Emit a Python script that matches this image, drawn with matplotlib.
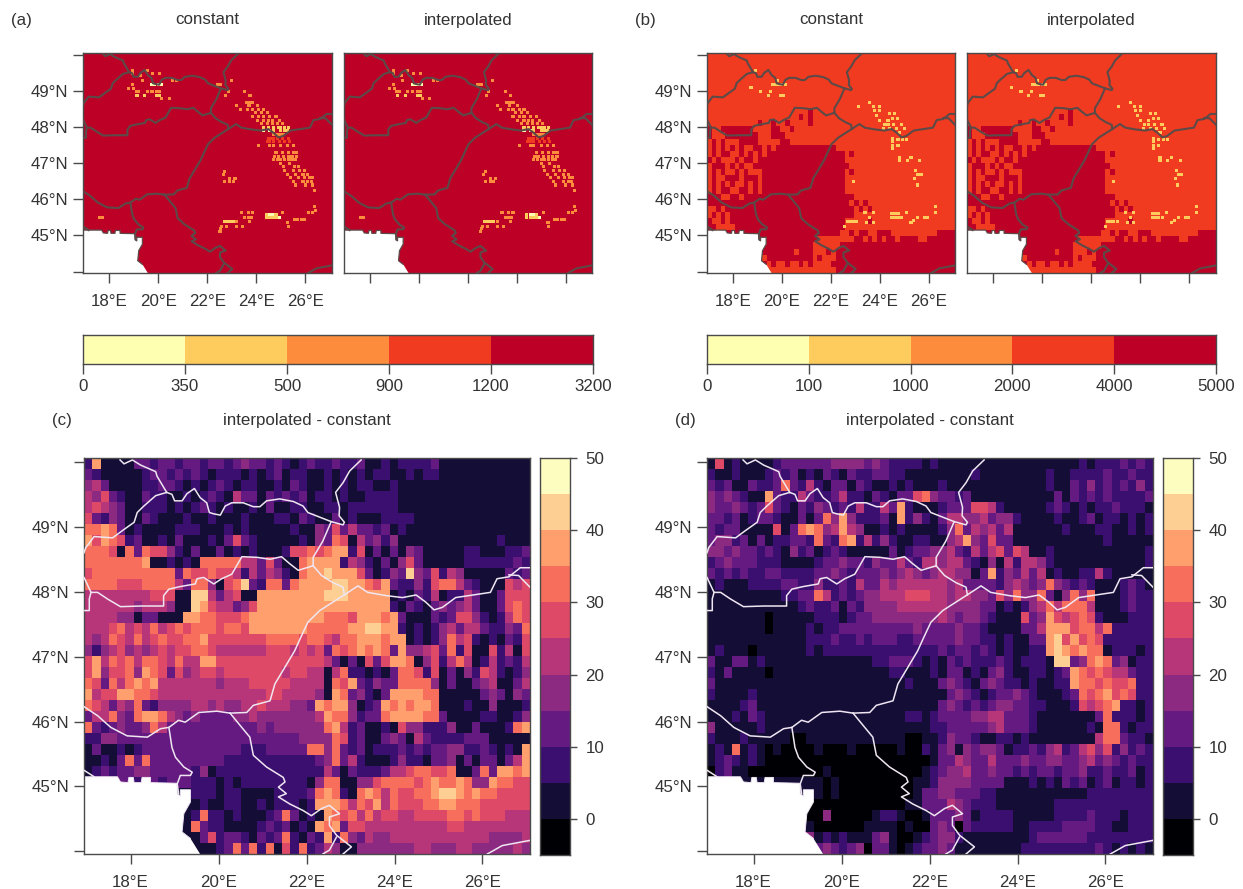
import numpy as np
import matplotlib
matplotlib.use('Agg')
import matplotlib.pyplot as plt
from matplotlib.colors import ListedColormap, BoundaryNorm

plt.rcParams['font.family'] = ['Liberation Sans', 'DejaVu Sans']

W, H = 1243, 889

heat_colors = ['#FFFFB2', '#FECC5C', '#FD8D3C', '#F03B20', '#BD0026']
magma_colors = ['#000004', '#140E36', '#3B0F70', '#641A80', '#8C2981', '#B63679',
                '#DE4968', '#F76F5C', '#FE9F6D', '#FECF92', '#FCFDBF']

a_breaks = ['0', '350', '500', '900', '1200', '3200']
b_breaks = ['0', '100', '1000', '2000', '4000', '5000']
diff_breaks = [-5, 0, 5, 10, 15, 20, 25, 30, 35, 40, 45, 50]
diff_labels = [0, 10, 20, 30, 40, 50]
lon_ticks = [18, 20, 22, 24, 26]
lat_ticks = [44, 45, 46, 47, 48, 49, 50]

# country borders, lon/lat
cz_pl = [(17.76, 50.03), (17.85, 49.97), (18.04, 50.03), (18.23, 49.95), (18.57, 49.85), (18.60, 49.78), (18.82, 49.53)]
sk_pl = [(18.82, 49.53), (18.94, 49.50), (19.0, 49.40), (19.17, 49.40), (19.28, 49.51), (19.45, 49.59), (19.58, 49.45),
         (19.73, 49.37), (19.79, 49.22), (19.89, 49.20), (20.04, 49.18), (20.15, 49.32), (20.30, 49.37), (20.56, 49.37),
         (20.79, 49.31), (20.94, 49.31), (21.09, 49.40), (21.39, 49.43), (21.70, 49.39), (21.92, 49.32), (22.03, 49.22),
         (22.56, 49.08), (22.83, 49.03), (22.86, 49.07), (22.74, 49.17), (22.75, 49.30), (22.66, 49.53), (22.83, 49.68),
         (22.98, 49.86), (23.24, 50.03)]
cz_sk = [(18.82, 49.53), (18.57, 49.48), (18.30, 49.32), (18.15, 49.22), (18.08, 49.07), (17.81, 48.94), (17.59, 48.83),
         (17.17, 48.85), (16.98, 48.68), (16.94, 48.60)]
sk_ua = [(22.56, 49.08), (22.37, 48.78), (22.15, 48.53), (22.15, 48.40)]
sk_hu = [(22.15, 48.40), (21.81, 48.33), (21.62, 48.43), (21.43, 48.54), (21.17, 48.50), (20.87, 48.53), (20.53, 48.54),
         (20.41, 48.40), (20.30, 48.27), (20.07, 48.20), (19.89, 48.12), (19.66, 48.22), (19.51, 48.20), (19.47, 48.12),
         (19.13, 48.08), (18.87, 48.04), (18.75, 47.94), (18.75, 47.78), (18.23, 47.78), (17.77, 47.77), (17.47, 47.89),
         (17.25, 47.99), (17.10, 47.99), (16.94, 48.22)]
at_hu = [(17.10, 47.99), (17.06, 47.89), (17.06, 47.71), (16.94, 47.71)]
hu_ua = [(22.15, 48.40), (22.34, 48.25), (22.60, 48.14), (22.83, 48.07), (22.86, 47.95)]
ro_north = [(27.08, 48.37), (26.86, 48.37), (26.60, 48.23), (26.33, 48.20), (26.18, 47.99), (25.39, 47.91), (25.09, 47.76),
            (24.90, 47.72), (24.71, 47.84), (24.49, 47.95), (24.18, 47.91), (23.81, 47.94), (23.39, 47.99), (23.17, 48.09),
            (22.83, 47.94), (22.30, 47.71), (22.03, 47.53), (21.85, 47.27), (21.73, 47.09), (21.51, 46.84), (21.28, 46.58),
            (21.17, 46.32), (20.79, 46.25), (20.64, 46.14), (20.26, 46.13)]
ro_md = [(26.60, 48.26), (26.82, 48.25), (27.08, 48.07)]
hu_south = [(16.94, 46.23), (17.25, 46.09), (17.55, 45.91), (17.92, 45.78), (18.38, 45.76), (18.68, 45.89), (18.87, 45.91),
            (19.09, 46.02), (19.24, 45.99), (19.55, 46.14), (19.96, 46.16), (20.26, 46.13)]
hr_rs = [(18.87, 45.91), (18.94, 45.60), (19.02, 45.45), (19.21, 45.30), (19.40, 45.22), (19.36, 45.17), (19.13, 45.17),
         (19.06, 45.04), (19.09, 44.89)]
rs_ro = [(20.26, 46.13), (20.49, 45.94), (20.71, 45.76), (20.79, 45.48), (21.09, 45.30), (21.47, 45.14), (21.51, 45.07),
         (21.36, 44.99), (21.54, 44.89), (21.36, 44.84), (21.62, 44.73), (21.92, 44.63), (22.11, 44.55), (22.34, 44.66),
         (22.52, 44.71), (22.75, 44.58), (22.52, 44.53), (22.52, 44.40), (22.68, 44.25), (23.02, 44.07), (22.83, 43.96)]
rs_bg = [(22.68, 44.22), (22.52, 44.02), (22.37, 43.96)]
ro_bg = [(26.11, 43.96), (26.45, 44.09), (27.08, 44.17)]
coast = [(16.94, 45.25), (17.17, 45.15)]
borders = [cz_pl, sk_pl, cz_sk, sk_ua, sk_hu, at_hu, hu_ua, ro_north, ro_md, hu_south, hr_rs, rs_ro, rs_bg, ro_bg, coast]

# sea / no data area in the south west corner
mask_lon = [16.94, 17.70, 17.77, 17.94, 17.96, 18.06, 18.08, 18.24, 18.26, 18.45, 18.45, 19.06, 19.06, 19.13, 19.13, 19.36,
            19.36, 19.21, 19.17, 19.36, 19.58, 16.94]
mask_lat = [45.15, 45.15, 45.07, 45.06, 45.14, 45.14, 45.06, 45.06, 45.14, 45.14, 45.06, 45.05, 44.89, 44.85, 44.95, 44.95,
            44.76, 44.58, 44.30, 44.20, 43.96, 43.96]

# panel (c), one char per cell = colour class, north to south
c_rows = [
    "2811113323 3233233234 3323212322 3223112122 2231111111 1111",
    "3211111233 2323212221 2123122112 1212122112 1221111111 1111",
    "4531111223 3212123212 2112132112 1212211211 1111111111 1111",
    "5463211322 1121232153 3132323122 1211222211 1111111111 1111",
    "5654311222 1212321211 2131122112 2122222211 1111111111 1111",
    "6324311321 1121121112 1112213211 3121112222 1111111111 1111",
    "7787312111 1222111212 1111121143 6353323121 1111111111 1111",
    "8687623112 1311121363 2111112143 7615342411 1111111111 2111",
    "7776173766 4213113121 2111266767 8826131314 3111112211 1223",
    "7777777811 2121777775 5363117888 8254213146 3111112222 2232",
    "6777777777 7376676652 5354217889 8886312439 4362541111 1323",
    "7777666777 7537741679 3277378888 9988768322 4267753211 1656",
    "5555555566 6119953561 1888888889 9988888121 3251225311 3666",
    "5555554555 4119865534 6888888888 8888888213 2134345311 3676",
    "5555441331 1188776667 8888888887 7768887831 1132366421 2576",
    "5556756575 6767776776 8888888777 7788998821 2124535532 2437",
    "5457657567 6677866666 6677776776 5778887881 2124756212 1326",
    "4245645456 5667765555 5566656563 7678787384 4563726116 2516",
    "6857675776 5755886666 6666666665 3131636887 1462575125 2325",
    "6846674876 3645665666 6666566551 5722121377 6261314265 2124",
    "7637578785 5555554555 6666655551 7683243377 7741311345 1135",
    "8566887765 5555555555 5566555541 8734213888 8771111134 3143",
    "7653547324 4445545445 5655544387 8841238787 8871112114 1112",
    "3557437887 5434333344 5444444458 7742337888 8773111122 1124",
    "7323433475 3333333333 3434444447 8523112164 4222411311 1278",
    "2244333333 3333333333 3333334444 7623113431 5322223331 1111",
    "1311212333 3333333332 2233333774 7323122232 3233442232 1218",
    "1121373733 3333333222 2222222234 7352111242 2133413133 1358",
    "1232334433 3332412222 2222222225 3132223556 7766711373 8878",
    "1122332332 3332221212 2222222147 7114467777 6787787448 7766",
    "1111111111 1112221221 1112222378 7217875766 7789987877 6666",
    "1111111111 1111211221 1212221288 8757685766 6778877766 6666",
    "1111111111 1112722121 1123731218 7675756655 6666776766 6555",
    "1111111111 1117322111 1232312187 8366555555 5555665555 5555",
    "1111111111 1111362332 1323721328 2743544555 5555555554 4445",
    "1111111111 1111112373 7271627235 4114444444 5544455444 4454",
]

# panel (d)
d_rows = [
    "1612111123 3333344443 4322221211 1111111111 1111121222 3232",
    "2112111232 3121321322 3322111111 1121111111 1211222232 2322",
    "3231132237 3252133132 1121211121 1111111111 1211324232 3242",
    "4343211832 2532235221 3213367433 2311111111 1131323232 2223",
    "4334323632 1324323252 2538211123 3366521111 1232121223 2221",
    "3323123321 1313748422 2318242135 5445344211 1121123122 1212",
    "3233111161 3787458541 1212111124 7354535111 1112111221 1212",
    "3442313122 3327327825 2421122114 5843633111 1111111121 1111",
    "4434332321 4231232111 1131233445 3253563651 1211111111 1112",
    "2343332221 1112334332 4335325545 5321415255 4211111111 1112",
    "3232322332 2223343233 3434543455 4413824353 5121122521 1111",
    "1211122223 3224223253 3545555554 5333324543 4743232111 2321",
    "1111111112 2337523234 4555666554 5544364744 7314747111 2322",
    "1111111111 1232231324 4445555554 4443312124 5757775111 2322",
    "1111111011 1112221233 4444444454 3443211163 4865676211 1222",
    "1111111011 1121223333 3333343333 4332111133 5888677572 2222",
    "1111111111 1122232232 3332233333 4332212113 3896867622 2222",
    "1211101111 1121222222 2222222232 3323212112 2898787712 2212",
    "3113312111 1111111111 2233321213 2322232122 2199347873 4122",
    "2131111011 1111111111 1122111213 3121342112 2123876765 5322",
    "3111111111 1111111111 1111211134 3213432212 1122877676 6722",
    "2111121111 1111111111 1111111113 4321233432 1112376786 7622",
    "1111231111 1111111111 1111111134 3232344332 2111265678 2212",
    "1112132111 1111111111 1111221233 3344553332 1111111372 2212",
    "4111112111 1111111111 1111111223 3333453332 1111112177 2122",
    "2111211111 0011111111 1111001124 3321122121 1111111577 3221",
    "1217121010 0001000100 0001002134 1434431223 2452356462 4232",
    "1232121000 0000000000 0000000133 5433533343 3443345343 2322",
    "0231100000 0000100000 0000001234 4533433232 3323342232 2312",
    "1111111111 1111010000 0000011244 4433331112 1213231231 2212",
    "1111111111 1111010000 0000013344 3332211111 1111112222 2222",
    "1111111111 1100000000 0000113335 4322211111 1122222222 2222",
    "1111111111 1100400000 1221001333 4312222111 1122223222 1222",
    "1111111111 1310000001 1110100343 0322222112 2223333221 1222",
    "1111111111 1341212111 3410012344 2111111112 3333332222 2222",
    "1111111111 1163432340 3310123343 1111111122 2222222321 2121",
]

# panel (b), classes 3 and 4 on the coarse grid
b_rows = [
    "3333333333 3333333333 3333333333 3333333333 3333333333 3333",
    "3333333333 3333333333 3333333333 3333333333 3333333333 3333",
    "3333333333 3333333333 3333333333 3333333333 3333333333 3333",
    "3333333333 3333333333 3333333333 3333333333 3333333333 3333",
    "3333333333 3333333333 3333333333 3333333333 3333333333 3333",
    "3333333333 3333333333 3333333333 3333333333 3333333333 3333",
    "3333333333 3333333333 3333333333 3333333333 3333333333 3333",
    "3333333333 3333333333 3333333333 3333333333 3333333333 3333",
    "3333333333 3333333333 3333333333 3333333333 3333333333 3333",
    "3333333333 3333333333 3343333333 3333333333 3333333333 3333",
    "3333333333 3333333333 4343333333 3333333333 3333333333 3333",
    "3333333333 3433433433 3343333333 3333333333 3333333333 3333",
    "4334444444 3333443343 3333333333 3333333333 3333333333 3333",
    "4333444444 4333444333 3333333333 3333333333 3333333333 3333",
    "3434333444 4333334433 3333333333 3333333333 3333333333 3333",
    "3434343433 4434344444 4444444433 3333333333 3333333333 3333",
    "3434433434 3434444444 4444444444 3433333333 3333333333 3333",
    "4343334344 3444444444 4444444444 3333333333 3333333333 3333",
    "3444343433 4444444444 4444444444 4333333333 3333333333 3333",
    "3434334343 3344444444 4444444444 3433333333 3333333333 3333",
    "3433444344 4344444444 4444444444 3333333333 3333333333 3333",
    "3434343343 4344444444 4444444444 3333333333 3333333333 3333",
    "3434433443 4344444444 4444444444 3333333333 3333333333 3333",
    "4443344344 4444444444 4444444444 4433333333 3333333333 3333",
    "4444444444 4444444444 4444444444 4343433333 3333333333 3333",
    "3343444444 4444444444 4444444444 4434343333 3333333333 3333",
    "3434344444 4444444444 4444444444 4433333333 3333333333 3333",
    "4334344444 4444444444 4444444444 3333343333 3333333333 3333",
    "4433334444 4444444444 4444444444 3333333333 3333333333 3333",
    "4444444444 4444444444 4444444443 3434433444 3333333333 4444",
    "4444444444 4444444444 4444333333 3344343434 4344443344 4444",
    "4444444444 4444444444 4443333334 4444444444 4444444444 4444",
    "4444444444 4444444443 4443334344 4444444444 4444444444 4444",
    "4444444444 4434444444 4443433344 4444444444 4444444444 4444",
    "4444444444 4443433433 4343333444 4444444444 4444444444 4444",
    "4444444444 4443333333 3333333344 4444444444 4444444444 4444",
]

# small high elevation cells, (lat, class, lons)
a_specks = [
    (49.58, 2, [18.97, 19.55]), (49.50, 2, [18.97, 19.78, 20.05]), (49.44, 2, [19.28]), (49.30, 2, [19.35, 20.60, 20.75]),
    (49.20, 0, [19.75, 19.87, 20.0, 20.12]), (49.20, 2, [18.95, 22.42, 22.55]), (49.07, 2, [18.81, 19.0]),
    (48.98, 2, [19.1, 19.2, 19.55, 19.75, 19.95, 20.05]), (48.89, 1, [19.14, 19.45, 19.95, 20.05]), (48.80, 2, [20.15, 20.45]),
    (49.30, 2, [23.0]), (48.98, 2, [23.53, 22.85]), (48.89, 2, [23.74, 22.75]),
    (48.70, 2, [23.6, 23.7, 23.85]), (48.60, 2, [23.2, 23.7, 24.05]),
    (48.50, 2, [23.35, 23.65, 23.85, 24.1, 24.3]), (48.40, 2, [23.95, 24.2, 24.45]),
    (48.30, 2, [23.85, 24.1, 24.3, 24.55, 24.8]), (48.20, 2, [24.05, 24.3, 24.5, 24.65, 24.95]),
    (48.10, 2, [24.2, 24.45, 24.65, 24.85, 25.05]), (48.00, 1, [24.3, 24.5, 24.7, 24.9, 25.0, 25.15, 25.3]),
    (47.90, 0, [24.3, 24.55]), (47.90, 1, [24.7, 25.0, 25.15, 25.25]),
    (47.80, 2, [24.7, 24.8, 24.9, 25.0, 25.1]), (47.70, 3, [24.5, 24.6, 24.7, 24.85, 25.05, 25.3]),
    (47.60, 3, [24.45, 24.55, 24.7, 24.95, 25.15, 25.35]), (47.50, 2, [24.1, 24.55, 24.7, 25.0, 25.25, 25.5]),
    (47.30, 2, [24.8, 25.05, 25.3, 25.5, 25.65]), (47.20, 2, [24.75, 24.9, 25.1, 25.3, 25.45, 25.65]),
    (47.10, 2, [24.7, 24.85, 25.0, 25.15, 25.3, 25.45, 25.6]), (47.00, 2, [25.0, 25.35]),
    (46.90, 2, [25.1, 25.55, 25.7]), (46.80, 2, [25.15, 25.5, 25.75, 25.95]), (46.70, 2, [25.25, 25.6, 25.9, 26.1]),
    (46.60, 2, [25.4, 25.7, 25.95, 26.15, 26.3]), (46.50, 2, [25.5, 25.9, 26.1, 26.25]), (46.40, 2, [25.6, 26.0, 26.3]),
    (46.25, 2, [26.35]), (46.77, 2, [22.72]), (46.68, 2, [22.65]), (46.58, 2, [22.92, 23.13]), (46.50, 2, [22.72, 22.92, 23.05]),
    (45.50, 2, [17.6, 17.72]), (45.12, 2, [22.52]), (45.26, 2, [22.59, 22.8, 23.2, 23.45]), (45.20, 2, [22.55]),
    (45.40, 1, [22.7, 22.82, 22.94, 23.06]), (45.40, 2, [23.2, 23.73]), (45.63, 2, [23.4, 23.67, 23.85, 25.08]), (45.50, 2, [23.53, 23.67, 23.8]),
    (45.58, 0, [24.55, 24.67]), (45.58, 1, [24.42, 24.8]), (45.50, 1, [24.42, 24.55, 24.67, 24.8]), (45.49, 0, [24.95]),
    (45.35, 2, [25.28]), (45.26, 2, [25.3]), (45.44, 2, [25.55, 25.68, 25.82, 25.95]), (45.63, 2, [26.12, 26.29]), (45.80, 2, [26.37]),
    (45.70, 2, [26.42]),
]
b_specks = [
    (49.58, 1, [18.94]), (49.09, 1, [18.74]), (48.98, 1, [19.14, 19.55]), (48.89, 1, [19.44, 19.95, 20.07]),
    (49.19, 1, [19.62, 19.75, 19.87, 20.0, 20.15]), (49.30, 1, [19.82]),
    (48.59, 1, [23.12, 23.76, 24.0]), (48.70, 1, [23.6]), (48.46, 1, [23.8, 24.0]), (48.32, 1, [23.87]),
    (48.38, 1, [24.4, 24.6]), (48.20, 1, [24.0, 24.34]), (48.25, 1, [24.54, 24.74]),
    (48.09, 1, [24.18, 24.34, 24.58, 24.88]), (47.97, 1, [24.14, 24.4, 24.67, 25.0]), (47.86, 1, [24.8]),
    (47.70, 1, [24.54]), (47.60, 1, [24.54]), (47.50, 1, [24.54, 24.75]), (47.40, 1, [24.54]), (47.65, 1, [24.75, 24.95, 25.1]),
    (47.15, 1, [24.8, 25.28]), (47.07, 1, [24.8, 25.12, 25.62]), (46.80, 1, [25.48]), (46.68, 1, [25.69, 25.55]),
    (46.59, 1, [25.42]), (46.40, 1, [25.53]), (46.50, 1, [22.92]),
    (45.40, 1, [22.67, 22.8, 22.92, 23.05]), (45.26, 1, [22.58]), (45.63, 1, [23.4, 23.73]), (45.49, 1, [23.6]),
    (45.37, 1, [23.46, 23.73]), (45.60, 1, [24.5, 24.62, 24.75]), (45.50, 1, [24.5, 24.62, 24.75, 24.9]), (45.63, 1, [25.08]),
    (45.35, 1, [25.28]), (45.42, 1, [25.4]), (45.49, 1, [25.55, 25.82, 25.95]), (45.81, 1, [26.29]), (45.63, 1, [26.29]),
]


def rows_to_grid(rows):
    out = []
    for r in rows:
        r = r.replace(' ', '')
        r = (r + r[-1] * 54)[:54]
        out.append([int(ch) for ch in r])
    return np.array(out)


def px_axes(x0, y0, x1, y1):
    return fig.add_axes([x0 / W, 1 - y1 / H, (x1 - x0) / W, (y1 - y0) / H])


def style_axes(ax, lw=1.0):
    for s in ax.spines.values():
        s.set_color('#4a4a4a')
        s.set_linewidth(lw)
    ax.tick_params(colors='#333333', labelsize=12.2, length=7, width=1.0, color='#4a4a4a')


def map_panel(ax, grid, colors, border_col, border_lw, specks=None, left=True, lonlabels=True):
    norm = BoundaryNorm(np.arange(len(colors) + 1) - 0.5, len(colors))
    cmap = ListedColormap(colors)
    xe = np.linspace(16.94, 27.08, grid.shape[1] + 1)
    ye = np.linspace(50.06, 43.96, grid.shape[0] + 1)
    ax.pcolormesh(xe, ye, grid, cmap=cmap, norm=norm, zorder=1)
    if specks:
        for lat, level, lons in specks:
            for lon in lons:
                ax.fill_between([lon - 0.0625, lon + 0.0625], lat - 0.042, lat + 0.042,
                                color=colors[level], lw=0, zorder=1.5)
    ax.fill(mask_lon, mask_lat, color='white', lw=0, zorder=2)
    ax.plot(mask_lon[:-2], mask_lat[:-2], color=border_col, lw=border_lw * 0.6, zorder=2.5)
    for b in borders:
        ax.plot([p[0] for p in b], [p[1] for p in b], color=border_col, lw=border_lw, zorder=3,
                solid_joinstyle='round')
    ax.set_xlim(16.94, 27.08)
    ax.set_ylim(43.96, 50.06)
    ax.set_xticks(lon_ticks)
    ax.set_xticklabels([f'{v}°E' for v in lon_ticks] if lonlabels else [])
    if left:
        ax.set_yticks(lat_ticks)
        ax.set_yticklabels(['' if v in (44, 50) else f'{v}°N' for v in lat_ticks])
    else:
        ax.set_yticks([])
    style_axes(ax)
    ax.tick_params(axis='x', pad=8)


def hbar(x0, x1, labels):
    ax = px_axes(x0, 335, x1, 364)
    xe = np.arange(len(heat_colors) + 1)
    ax.pcolormesh(xe, [0, 1], np.arange(len(heat_colors))[None, :], cmap=ListedColormap(heat_colors))
    ax.set_yticks([])
    ax.set_xticks(xe)
    ax.set_xticklabels(labels)
    style_axes(ax)
    ax.tick_params(axis='x', pad=4)


def vbar(x0, x1):
    ax = px_axes(x0, 458, x1, 855)
    ax.pcolormesh([0, 1], diff_breaks, np.arange(len(magma_colors))[:, None], cmap=ListedColormap(magma_colors))
    ax.set_xticks([])
    ax.yaxis.tick_right()
    ax.set_yticks(diff_labels)
    ax.set_yticklabels([str(v) for v in diff_labels])
    style_axes(ax)
    ax.tick_params(length=5, pad=6)


fig = plt.figure(figsize=(W / 100, H / 100), dpi=100)
a_base = np.full((36, 54), 4)
b_base = rows_to_grid(b_rows)

ax = px_axes(83, 53, 332, 273)
map_panel(ax, a_base, heat_colors, '#5c4a48', 1.5, a_specks)
ax = px_axes(344, 53, 592, 273)
map_panel(ax, a_base, heat_colors, '#5c4a48', 1.5, a_specks, left=False, lonlabels=False)
ax = px_axes(707, 53, 955, 273)
map_panel(ax, b_base, heat_colors, '#5c4a48', 1.5, b_specks)
ax = px_axes(967, 53, 1216, 273)
map_panel(ax, b_base, heat_colors, '#5c4a48', 1.5, b_specks, left=False, lonlabels=False)
hbar(83, 593, a_breaks)
hbar(707, 1216, b_breaks)

ax = px_axes(84, 458, 530, 854)
map_panel(ax, rows_to_grid(c_rows), magma_colors, '#efe6f2', 1.1)
vbar(540, 570)
ax = px_axes(707, 458, 1153, 854)
map_panel(ax, rows_to_grid(d_rows), magma_colors, '#efe6f2', 1.1)
vbar(1163, 1193)

for x, y, s, ha in [(11, 20, '(a)', 'left'), (207, 20, 'constant', 'center'), (468, 20, 'interpolated', 'center'),
                    (635, 20, '(b)', 'left'), (831, 20, 'constant', 'center'), (1091, 20, 'interpolated', 'center'),
                    (52, 420, '(c)', 'left'), (307, 420, 'interpolated - constant', 'center'),
                    (675, 420, '(d)', 'left'), (930, 420, 'interpolated - constant', 'center')]:
    fig.text(x / W, 1 - y / H, s, ha=ha, va='center', fontsize=12.2, color='#333333')

fig.savefig('out.png', dpi=100)
